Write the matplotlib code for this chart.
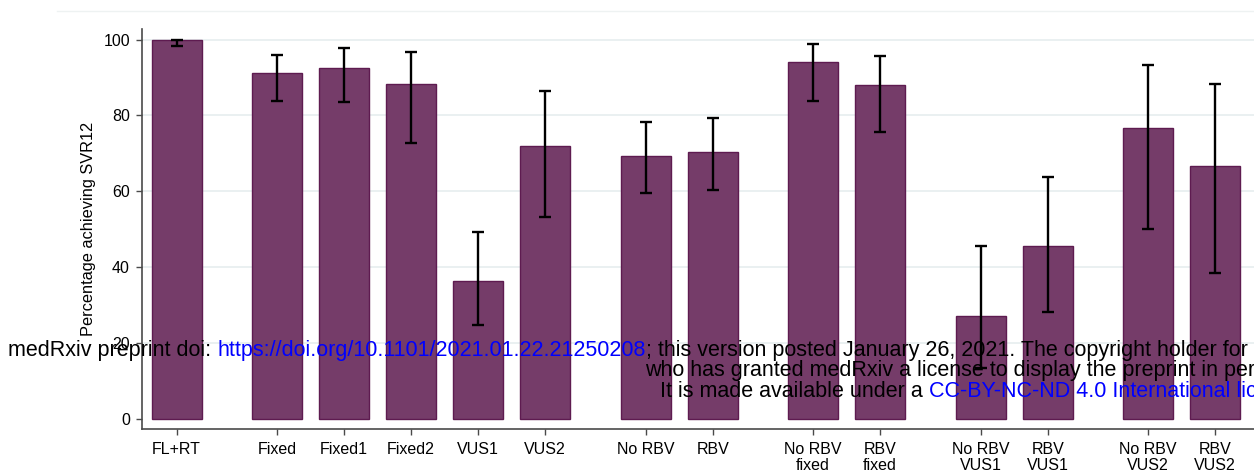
import matplotlib
matplotlib.use("Agg")
import matplotlib.pyplot as plt
from matplotlib.lines import Line2D
from matplotlib.offsetbox import TextArea, HPacker, AnchoredOffsetbox

plt.rcParams['font.family'] = ['Liberation Sans', 'DejaVu Sans']

# ---- data ----
groups = [
    ["FL+RT"],
    ["Fixed", "Fixed1", "Fixed2", "VUS1", "VUS2"],
    ["No RBV", "RBV"],
    ["No RBV\nfixed", "RBV\nfixed"],
    ["No RBV\nVUS1", "RBV\nVUS1"],
    ["No RBV\nVUS2", "RBV\nVUS2"],
]
values = [100.0, 91.1, 92.6, 88.2, 36.3, 71.9, 69.3, 70.4, 94.2, 87.9, 27.2, 45.5, 76.6, 66.7]
ci_low = [98.3, 83.9, 83.5, 72.6, 24.9, 53.3, 59.5, 60.3, 83.9, 75.7, 13.4, 28.1, 50.1, 38.4]
ci_high = [100.0, 95.9, 97.7, 96.8, 49.2, 86.4, 78.2, 79.3, 98.9, 95.7, 45.6, 63.7, 93.3, 88.3]
yticks = [0, 20, 40, 60, 80, 100]

# ---- positions (grouped with gaps) ----
labels, xpos = [], []
x = 0.0
for g in groups:
    for lab in g:
        labels.append(lab)
        xpos.append(x)
        x += 1.0
    x += 0.5

W, H = 1254, 475
fig = plt.figure(figsize=(W / 100, H / 100), dpi=100)
ax_left = 141.7 / W
ax_bottom = 1 - 429 / H
ax_top = 1 - 29 / H
ax = fig.add_axes([ax_left, ax_bottom, 1 - ax_left, ax_top - ax_bottom])

bar_color = '#753C69'
edge_color = '#5E1B50'

for yt in yticks[1:]:
    ax.axhline(yt, color='#E8EFF0', lw=1.3, zorder=0)

ax.bar(xpos, values, width=0.75, color=bar_color, edgecolor=edge_color, linewidth=1.0, zorder=2)
err_lo = [v - l for v, l in zip(values, ci_low)]
err_hi = [h - v for v, h in zip(values, ci_high)]
ax.errorbar(xpos, values, yerr=[err_lo, err_hi], fmt='none', ecolor='black',
            elinewidth=1.7, capsize=4.3, capthick=1.7, zorder=3)

ax.set_xlim(-0.522, 16.08)
ax.set_ylim(-2.635, 102.77)
ax.set_xticks(xpos)
ax.set_xticklabels(labels, fontsize=11.5, linespacing=1.08)
ax.set_yticks(yticks)
ax.set_yticklabels([str(v) for v in yticks], fontsize=11.5)
ax.tick_params(axis='both', colors='#4a4a4a', length=4.5, width=1.0, labelcolor='black')
ax.tick_params(axis='x', pad=5)
ax.tick_params(axis='y', pad=4)
for s in ['top', 'right']:
    ax.spines[s].set_visible(False)
for s in ['left', 'bottom']:
    ax.spines[s].set_color('#4a4a4a')
    ax.spines[s].set_linewidth(1.2)
ax.set_ylabel("Percentage achieving SVR12", fontsize=11.8)
ax.yaxis.set_label_coords(-45.7 / (W - 141.7), 0.5)

# top plot-region border line
fig.add_artist(Line2D([57 / W, 1.0], [1 - 11 / H, 1 - 11 / H], color='#EEF2F2', lw=1.0))

# medRxiv watermark header
fs = 15.5
blue = '#0000FF'

def line(parts, x_px, y_px):
    boxes = [TextArea(txt, textprops=dict(color=col, fontsize=fs)) for txt, col in parts]
    pack = HPacker(children=boxes, align='baseline', pad=0, sep=0)
    ab = AnchoredOffsetbox(loc='lower left', child=pack, pad=0, borderpad=0, frameon=False,
                           bbox_to_anchor=(x_px / W, 1 - y_px / H),
                           bbox_transform=fig.transFigure)
    fig.add_artist(ab)

line([("medRxiv preprint doi: ", 'black'),
      ("https://doi.org/10.1101/2021.01.22.21250208", blue),
      ("; this version posted January 26, 2021. The copyright holder for this preprint (which was not certified by peer review) is the author/funder,", 'black')],
     8, 361)
line([("who has granted medRxiv a license to display the preprint in perpetuity.", 'black')], 645, 381)
line([("It is made available under a ", 'black'),
      ("CC-BY-NC-ND 4.0 International license", blue),
      (" .", 'black')], 660, 402)

fig.savefig("out.png", dpi=100)
